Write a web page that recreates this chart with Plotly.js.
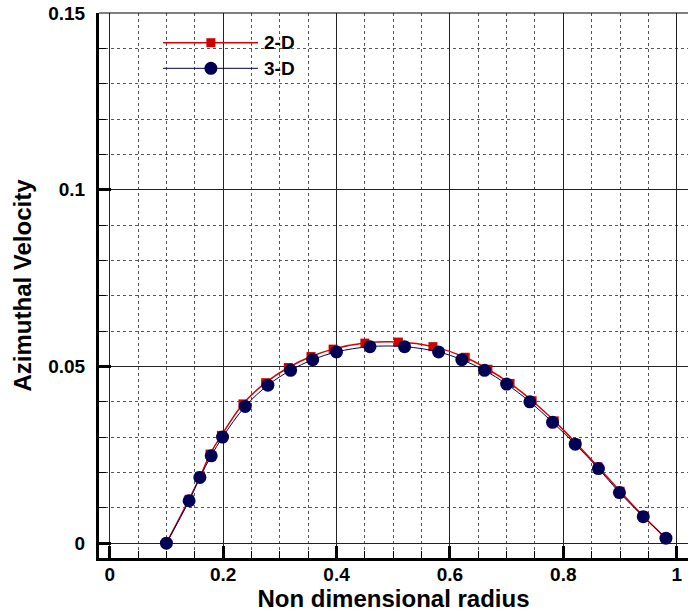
<!DOCTYPE html>
<html>
<head>
<meta charset="utf-8">
<script src="https://cdn.plot.ly/plotly-3.0.1.min.js"></script>
<style>html,body{margin:0;padding:0;background:#fff;}#chart{width:688px;height:614px;}</style>
</head>
<body>
<div id="chart"></div>
<script>
// 2-D series
var x2D = [0.10, 0.14, 0.16, 0.177, 0.197, 0.235, 0.275, 0.315, 0.355, 0.394, 0.450, 0.509, 0.570, 0.627, 0.667, 0.706, 0.745, 0.784, 0.823, 0.861, 0.900, 0.940, 0.980];
var y2D = [0.0, 0.0124, 0.0190, 0.0252, 0.0305, 0.0394, 0.0454, 0.0497, 0.0528, 0.0549, 0.0566, 0.0569, 0.0556, 0.0526, 0.0492, 0.0452, 0.0403, 0.0346, 0.0282, 0.0216, 0.0147, 0.0078, 0.0015];
// 3-D series
var x3D = [0.100, 0.140, 0.159, 0.179, 0.199, 0.239, 0.279, 0.319, 0.358, 0.400, 0.459, 0.520, 0.580, 0.621, 0.661, 0.700, 0.741, 0.781, 0.821, 0.862, 0.899, 0.941, 0.981];
var y3D = [0.0, 0.0120, 0.0186, 0.0247, 0.0300, 0.0387, 0.0447, 0.0489, 0.0519, 0.0541, 0.0556, 0.0556, 0.0541, 0.0519, 0.0489, 0.0450, 0.0400, 0.0342, 0.0280, 0.0211, 0.0143, 0.0075, 0.0014];
var seriesNames = ["2-D", "3-D"];
var xTitle = "Non dimensional radius";
var yTitle = "Azimuthal Velocity";

var red = "#dd0000", navy = "#000055";
var FONT = "Arial, 'Liberation Sans', Helvetica, sans-serif";

var traces = [
  {x: x2D, y: y2D, name: seriesNames[0], mode: "lines+markers", type: "scatter",
   line: {color: red, width: 1.5, shape: "spline"},
   marker: {symbol: "square", size: 9, color: "#d00000"}},
  {x: x3D, y: y3D, name: seriesNames[1], mode: "lines+markers", type: "scatter",
   line: {color: navy, width: 1, shape: "spline"},
   marker: {symbol: "circle", size: 13, color: navy}}
];

var lx0 = 0.1087, lx1 = 0.2699, lmx = 0.190, ly1 = 0.9455, ly2 = 0.8985, ltx = 0.2767;

var tickFont = {family: FONT, size: 19, color: "#000", weight: "bold"};

var layout = {
  width: 688, height: 614,
  margin: {l: 99, r: 0, t: 13, b: 56},
  paper_bgcolor: "#fff", plot_bgcolor: "#fff",
  showlegend: false,
  font: {family: FONT, color: "#000", size: 17},
  xaxis: {
    range: [-0.0189, 1.0199], tick0: 0, dtick: 0.2,
    showline: true, linecolor: "#000", linewidth: 3,
    ticks: "inside", ticklen: 12, tickwidth: 3, tickcolor: "#000",
    showgrid: true, gridcolor: "#222", gridwidth: 1, zeroline: false,
    tickfont: tickFont, ticklabelstandoff: -3,
    minor: {tick0: 0, dtick: 0.05, ticks: "inside", ticklen: 7, tickwidth: 1, tickcolor: "#000",
            showgrid: true, gridcolor: "#555", griddash: "dot", gridwidth: 1},
    title: {text: xTitle, font: {family: FONT, size: 24, color: "#000", weight: "bold"}, standoff: 0}
  },
  yaxis: {
    range: [-0.0042, 0.15], tick0: 0, dtick: 0.05,
    showline: true, linecolor: "#000", linewidth: 3,
    ticks: "inside", ticklen: 12, tickwidth: 3, tickcolor: "#000",
    showgrid: true, gridcolor: "#222", gridwidth: 1, zeroline: false,
    tickfont: tickFont,
    ticklabelstandoff: 7,
    minor: {tick0: 0, dtick: 0.01, ticks: "inside", ticklen: 7, tickwidth: 1, tickcolor: "#000",
            showgrid: true, gridcolor: "#555", griddash: "dot", gridwidth: 1},
    title: {text: yTitle, font: {family: FONT, size: 24, color: "#000", weight: "bold"}, standoff: 10}
  },
  shapes: [
    {type: "line", xref: "paper", yref: "paper", x0: 0, x1: 1, y0: 1, y1: 1, line: {color: "#000", width: 1}},
    {type: "line", xref: "paper", yref: "paper", x0: lx0, x1: lx1, y0: ly1, y1: ly1, line: {color: red, width: 1.5}},
    {type: "line", xref: "paper", yref: "paper", x0: lx0, x1: lx1, y0: ly2, y1: ly2, line: {color: navy, width: 1}},
    {type: "rect", xref: "paper", yref: "paper", xsizemode: "pixel", ysizemode: "pixel",
     xanchor: lmx, yanchor: ly1, x0: -4.5, x1: 4.5, y0: -4.5, y1: 4.5, fillcolor: "#d00000", line: {width: 0}},
    {type: "circle", xref: "paper", yref: "paper", xsizemode: "pixel", ysizemode: "pixel",
     xanchor: lmx, yanchor: ly2, x0: -6.5, x1: 6.5, y0: -6.5, y1: 6.5, fillcolor: navy, line: {width: 0}}
  ],
  annotations: [
    {xref: "paper", yref: "paper", x: ltx, y: ly1, xanchor: "left", yanchor: "middle", showarrow: false,
     text: "<b>" + seriesNames[0] + "</b>", font: {family: FONT, size: 19, color: "#000"}},
    {xref: "paper", yref: "paper", x: ltx, y: ly2, xanchor: "left", yanchor: "middle", showarrow: false,
     text: "<b>" + seriesNames[1] + "</b>", font: {family: FONT, size: 19, color: "#000"}}
  ]
};

Plotly.newPlot("chart", traces, layout, {displayModeBar: false, staticPlot: true});
</script>
</body>
</html>
